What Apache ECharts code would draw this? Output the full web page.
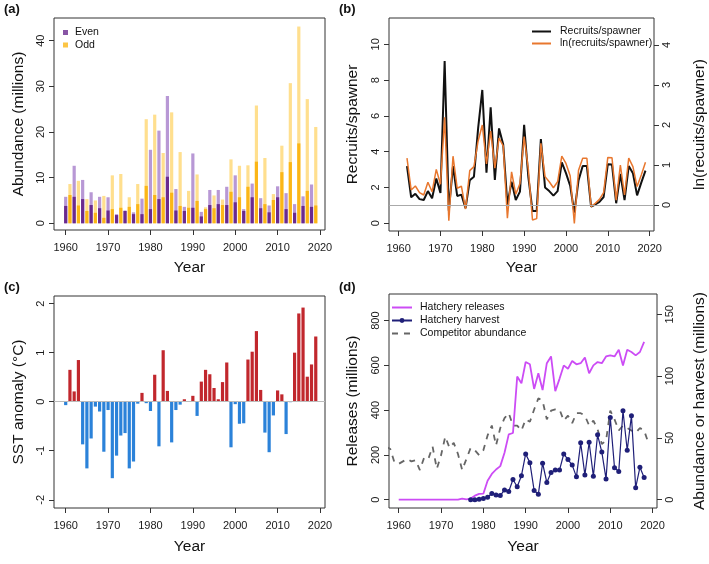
<!DOCTYPE html>
<html><head><meta charset="utf-8">
<script src="https://cdn.jsdelivr.net/npm/echarts@6/dist/echarts.min.js"></script>
<style>html,body{margin:0;padding:0;background:#fff}#c{width:709px;height:564px}</style>
</head><body><div id="c"></div>
<script>
// ---------- DATA ----------
const years = [1960,1961,1962,1963,1964,1965,1966,1967,1968,1969,1970,1971,1972,1973,1974,1975,1976,1977,1978,1979,
1980,1981,1982,1983,1984,1985,1986,1987,1988,1989,1990,1991,1992,1993,1994,1995,1996,1997,1998,1999,
2000,2001,2002,2003,2004,2005,2006,2007,2008,2009,2010,2011,2012,2013,2014,2015,2016,2017,2018,2019];
// (a) abundance: total (light) and lower part (dark), millions
const abundTotal = [5.8,8.6,12.6,9.3,9.5,5.3,6.8,5.0,5.8,6.0, 5.7,10.5,2.0,10.8,2.8,5.7,2.4,8.6,5.4,22.8,
16.1,23.8,20.3,15.4,27.9,24.3,7.5,15.6,3.6,7.1, 15.3,10.7,2.5,3.5,7.3,6.1,7.3,5.2,8.0,14.0,
10.5,12.6,3.1,12.7,8.7,25.8,5.5,14.3,3.9,6.4, 8.1,17.0,6.6,30.7,4.2,43.1,5.9,27.2,8.5,21.1];
const abundDark = [3.8,6.2,5.8,3.9,5.3,2.7,4.0,2.3,3.3,1.2, 2.8,3.1,1.8,3.4,2.7,3.6,2.0,4.2,2.0,8.2,
3.1,6.2,5.3,5.7,10.2,6.7,2.8,3.8,2.7,3.4, 3.4,4.9,1.5,3.1,4.0,3.3,4.2,4.0,4.0,6.9,
4.6,5.7,2.7,8.0,5.7,13.5,3.3,4.2,2.4,5.1, 5.7,11.2,3.1,13.4,2.3,17.5,3.8,7.1,3.6,3.9];
// (b) recruits per spawner
const rsYears = [1962,1963,1964,1965,1966,1967,1968,1969,1970,1971,1972,1973,1974,1975,1976,1977,1978,1979,
1980,1981,1982,1983,1984,1985,1986,1987,1988,1989,1990,1991,1992,1993,1994,1995,1996,1997,1998,1999,
2000,2001,2002,2003,2004,2005,2006,2007,2008,2009,2010,2011,2012,2013,2014,2015,2016,2017,2018,2019];
const rsValues = [3.2,1.45,1.65,1.35,1.3,1.8,1.4,2.5,1.7,9.07, 0.7,3.2,1.53,1.6,0.85,2.4,2.6,5.3,7.45,2.83,
6.48,2.42,5.3,4.4,1.05,2.33,1.3,1.77,5.5,2.6, 0.69,0.69,4.7,2.0,1.8,1.55,1.8,3.4,2.8,2.1,
0.6,2.4,3.2,3.2,0.93,1.05,1.2,1.47,3.3,3.28, 1.12,2.76,1.3,3.2,2.8,1.56,2.27,2.94];
const lnRsValues = [1.17,0.375,0.475,0.31,0.25,0.57,0.33,0.89,0.52,2.19, -0.39,1.22,0.42,0.47,-0.1,0.86,0.96,1.6,2.0,1.03,
1.85,0.92,1.67,1.48,-0.33,0.83,0.27,0.54,1.71,0.9, -0.375,-0.34,1.54,0.71,0.58,0.43,0.58,1.22,1.04,0.73,
-0.46,0.87,1.17,1.17,-0.04,0.04,0.14,0.31,1.19,1.18, 0.12,1.0,0.25,1.17,0.96,0.46,0.75,1.07];
// (c) SST anomaly
const sstValues = [-0.07,0.65,0.21,0.85,-0.87,-1.36,-0.75,-0.1,-0.2,-1.02, -0.17,-1.56,-1.1,-0.69,-0.64,-1.36,-1.22,-0.04,0.18,-0.03,
-0.19,0.55,-0.91,1.05,0.22,-0.83,-0.17,-0.06,0.05,0.01, 0.12,-0.29,0.41,0.65,0.56,0.28,0.05,0.40,0.80,-0.93,
-0.05,-0.45,-0.44,0.86,1.02,1.44,0.24,-0.63,-1.03,-0.28, 0.23,0.15,-0.66,-0.01,1.0,1.8,1.92,0.51,0.76,1.33];
// (d) hatchery releases (1960-2018), harvest (1977-2018), competitor abundance (1957-2019)
const relYears = [1960,1961,1962,1963,1964,1965,1966,1967,1968,1969,1970,1971,1972,1973,1974,1975,1976,1977,1978,1979,
1980,1981,1982,1983,1984,1985,1986,1987,1988,1989,1990,1991,1992,1993,1994,1995,1996,1997,1998,1999,
2000,2001,2002,2003,2004,2005,2006,2007,2008,2009,2010,2011,2012,2013,2014,2015,2016,2017,2018];
const releases = [0,0,0,0,0,0,0,0,0,0, 0,0,0,0,0,5,2,5,18,26,
27,85,115,135,150,210,292,298,550,520, 615,605,495,565,490,610,640,485,540,600,
585,620,605,610,635,565,600,615,610,640, 645,640,670,600,670,660,645,660,705];
const harvYears = [1977,1978,1979,1980,1981,1982,1983,1984,1985,1986,1987,1988,1989,1990,1991,1992,1993,1994,1995,1996,
1997,1998,1999,2000,2001,2002,2003,2004,2005,2006,2007,2008,2009,2010,2011,2012,2013,2014,2015,2016,2017,2018];
const harvest = [0,0,0.3,1,2,5,3.8,3.5,7.8,6.7, 16.4,10.5,19.4,37,30,7.5,4.5,29.5,14,22,
24,24,37,32.5,28,18.5,46,20,46.5,19, 52.5,38.5,16.8,66.5,25.8,22.8,72,40,68,9.7, 26.2,18];
const compYears = [1957,1958,1959,1960,1961,1962,1963,1964,1965,1966,1967,1968,1969,1970,1971,1972,1973,1974,1975,1976,1977,1978,1979,
1980,1981,1982,1983,1984,1985,1986,1987,1988,1989,1990,1991,1992,1993,1994,1995,1996,1997,1998,1999,
2000,2001,2002,2003,2004,2005,2006,2007,2008,2009,2010,2011,2012,2013,2014,2015,2016,2017,2018,2019];
const competitor = [43,41,30,29,31,33,31,32,24,34,33,43,25,36,51,42,46,37,24,33,42,40,36,
40,52,60,44,58,66,70,60,60,56,65,63,73,82,80,65,72,73,73,64,
68,62,70,70,68,60,64,57,45,48,72,65,56,60,58,56,54,58,56,46];
// tick labels
const yearTicks = [1960,1970,1980,1990,2000,2010,2020];
const abundTicks = [0,10,20,30,40];
const rsTicks = [0,2,4,6,8,10];
const lnRsTicks = [0,1,2,3,4];
const sstTicks = [-2,-1,0,1,2];
const relTicks = [0,200,400,600,800];
const harvTicks = [0,50,100,150];

// ---------- HELPERS ----------
const FONT = '"Liberation Sans", Arial, Helvetica, sans-serif';
const pair = (xs, vs) => xs.map((x, i) => [x, vs[i]]);
const isEven = y => y % 2 === 0;
const fmt = v => String(v);

function xAx(gi, min, max, gap) {
  return {
    type: 'value', gridIndex: gi, min, max,
    axisLine: { show: false, onZero: false }, splitLine: { show: false },
    axisTick: { show: true, inside: false, length: 5, lineStyle: { color: '#333' }, customValues: yearTicks },
    axisLabel: { customValues: yearTicks, margin: 12, fontSize: 11, color: '#1a1a1a', fontFamily: FONT, formatter: fmt },
    name: 'Year', nameLocation: 'middle', nameGap: gap,
    nameTextStyle: { fontSize: 15.5, color: '#111', fontFamily: FONT }
  };
}
function yAx(gi, min, max, ticks, name, pos, gap) {
  return {
    type: 'value', gridIndex: gi, min, max, position: pos,
    axisLine: { show: false, onZero: false }, splitLine: { show: false },
    axisTick: { show: true, inside: false, length: 5, lineStyle: { color: '#333' }, customValues: ticks },
    axisLabel: { customValues: ticks, rotate: 90, margin: pos === 'left' ? 8 : 7, fontSize: 11, color: '#1a1a1a', fontFamily: FONT, formatter: fmt },
    name, nameLocation: 'middle', nameRotate: 90, nameGap: gap,
    nameTextStyle: { fontSize: 15.5, color: '#111', fontFamily: FONT }
  };
}
const gridStyle = { show: true, borderColor: '#333', borderWidth: 1, backgroundColor: 'transparent' };
const ttl = (t, l, tp) => ({ text: t, left: l, top: tp, padding: 0, textStyle: { fontSize: 13, fontWeight: 'bold', color: '#111', fontFamily: FONT } });

const C = {
  evenDark: '#6A2A8E', evenLight: '#B898D5', oddDark: '#FBB617', oddLight: '#FFDF8E',
  black: '#111111', orange: '#E8772E', red: '#C1272D', blue: '#2B82D9',
  magenta: '#CC4CF5', navy: '#1F1F78', gray: '#666666'
};
const BW = 3.2;
const hide = { opacity: 0 };
const legendText = { fontSize: 10.5, color: '#111', fontFamily: FONT };

const option = {
  animation: false,
  backgroundColor: '#fff',
  textStyle: { fontFamily: FONT },
  title: [ttl('(a)', 4, 3), ttl('(b)', 339, 3), ttl('(c)', 4, 281), ttl('(d)', 339, 281)],
  grid: [
    Object.assign({ left: 54, top: 18, width: 271, height: 212 }, gridStyle),
    Object.assign({ left: 389, top: 18, width: 268, height: 213 }, gridStyle),
    Object.assign({ left: 54, top: 296, width: 271, height: 212 }, gridStyle),
    Object.assign({ left: 389, top: 294, width: 268, height: 214 }, gridStyle)
  ],
  xAxis: [
    xAx(0, 1957.24, 2021.18, 29.5),
    xAx(1, 1957.7, 2021.04, 29),
    xAx(2, 1957.24, 2021.18, 30.5),
    xAx(3, 1957.7, 2021.04, 30.5)
  ],
  yAxis: [
    yAx(0, -1.47, 44.97, abundTicks, 'Abundance (millions)', 'left', 27),
    yAx(1, -0.43, 11.47, rsTicks, 'Recruits/spawner', 'left', 28),
    yAx(1, -0.65, 4.675, lnRsTicks, 'ln(recuits/spawner)', 'right', 38),
    yAx(2, -2.168, 2.156, sstTicks, 'SST anomaly (°C)', 'left', 27),
    yAx(3, -37, 919, relTicks, 'Releases (millions)', 'left', 28),
    yAx(3, -6.7, 166.4, harvTicks, 'Abundance or harvest (millions)', 'right', 35)
  ],
  legend: [
    { data: [{ name: 'Even', icon: 'rect' }, { name: 'Odd', icon: 'rect' }], orient: 'vertical', left: 63, top: 27,
      itemWidth: 5, itemHeight: 5, itemGap: 1.5, padding: 0, selectedMode: false,
      textStyle: Object.assign({ padding: [0, 0, 0, 2] }, legendText) },
    { data: [{ name: 'Recruits/spawner', itemStyle: hide }, { name: 'ln(recruits/spawner)', itemStyle: hide }],
      orient: 'vertical', left: 531, top: 26,
      itemWidth: 19, itemHeight: 11, itemGap: 1, padding: 0, selectedMode: false,
      textStyle: Object.assign({ padding: [0, 0, 0, 4] }, legendText) },
    { data: [{ name: 'Hatchery releases', itemStyle: hide }, { name: 'Hatchery harvest' }, { name: 'Competitor abundance', itemStyle: hide }],
      orient: 'vertical', left: 391, top: 302,
      itemWidth: 20, itemHeight: 6, itemGap: 2, padding: 0, selectedMode: false,
      textStyle: Object.assign({ padding: [0, 0, 0, 3] }, legendText) }
  ],
  series: [
    // (a)
    { name: 'Total', type: 'bar', xAxisIndex: 0, yAxisIndex: 0, barWidth: BW, barGap: '-100%',
      data: pair(years, abundTotal),
      itemStyle: { color: p => (isEven(p.value[0]) ? C.evenLight : C.oddLight) } },
    { name: 'Dark part', type: 'bar', xAxisIndex: 0, yAxisIndex: 0, barWidth: BW, barGap: '-100%',
      data: pair(years, abundDark),
      itemStyle: { color: p => (isEven(p.value[0]) ? C.evenDark : C.oddDark) } },
    { name: 'Even', type: 'scatter', xAxisIndex: 0, yAxisIndex: 0, data: [], itemStyle: { color: C.evenDark } },
    { name: 'Odd', type: 'scatter', xAxisIndex: 0, yAxisIndex: 0, data: [], itemStyle: { color: C.oddDark } },
    // (b)
    { name: 'Recruits/spawner', type: 'line', xAxisIndex: 1, yAxisIndex: 1, symbol: 'none',
      data: pair(rsYears, rsValues), lineStyle: { color: C.black, width: 2 }, itemStyle: { color: C.black },
      markLine: { silent: true, symbol: ['none', 'none'], label: { show: false },
        lineStyle: { color: '#aaaaaa', width: 1, type: 'solid' }, data: [{ yAxis: 1 }] } },
    { name: 'ln(recruits/spawner)', type: 'line', xAxisIndex: 1, yAxisIndex: 2, symbol: 'none',
      data: pair(rsYears, lnRsValues), lineStyle: { color: C.orange, width: 1.5 }, itemStyle: { color: C.orange } },
    // (c)
    { name: 'SST', type: 'bar', xAxisIndex: 2, yAxisIndex: 3, barWidth: BW,
      data: pair(years, sstValues),
      itemStyle: { color: p => (p.value[1] >= 0 ? C.red : C.blue) },
      markLine: { silent: true, symbol: ['none', 'none'], label: { show: false },
        lineStyle: { color: '#bbbbbb', width: 1, type: 'solid' }, data: [{ yAxis: 0 }] } },
    // (d)
    { name: 'Competitor abundance', type: 'line', xAxisIndex: 3, yAxisIndex: 5, symbol: 'none',
      data: pair(compYears, competitor), lineStyle: { color: C.gray, width: 1.8, type: [6, 6] }, itemStyle: { color: C.gray } },
    { name: 'Hatchery releases', type: 'line', xAxisIndex: 3, yAxisIndex: 4, symbol: 'none',
      data: pair(relYears, releases), lineStyle: { color: C.magenta, width: 1.8 }, itemStyle: { color: C.magenta } },
    { name: 'Hatchery harvest', type: 'line', xAxisIndex: 3, yAxisIndex: 5, symbol: 'circle', symbolSize: 5,
      data: pair(harvYears, harvest), lineStyle: { color: C.navy, width: 1.2 }, itemStyle: { color: C.navy } }
  ]
};
const chart = echarts.init(document.getElementById('c'), null, { renderer: 'canvas' });
chart.setOption(option);
</script>
</body></html>
